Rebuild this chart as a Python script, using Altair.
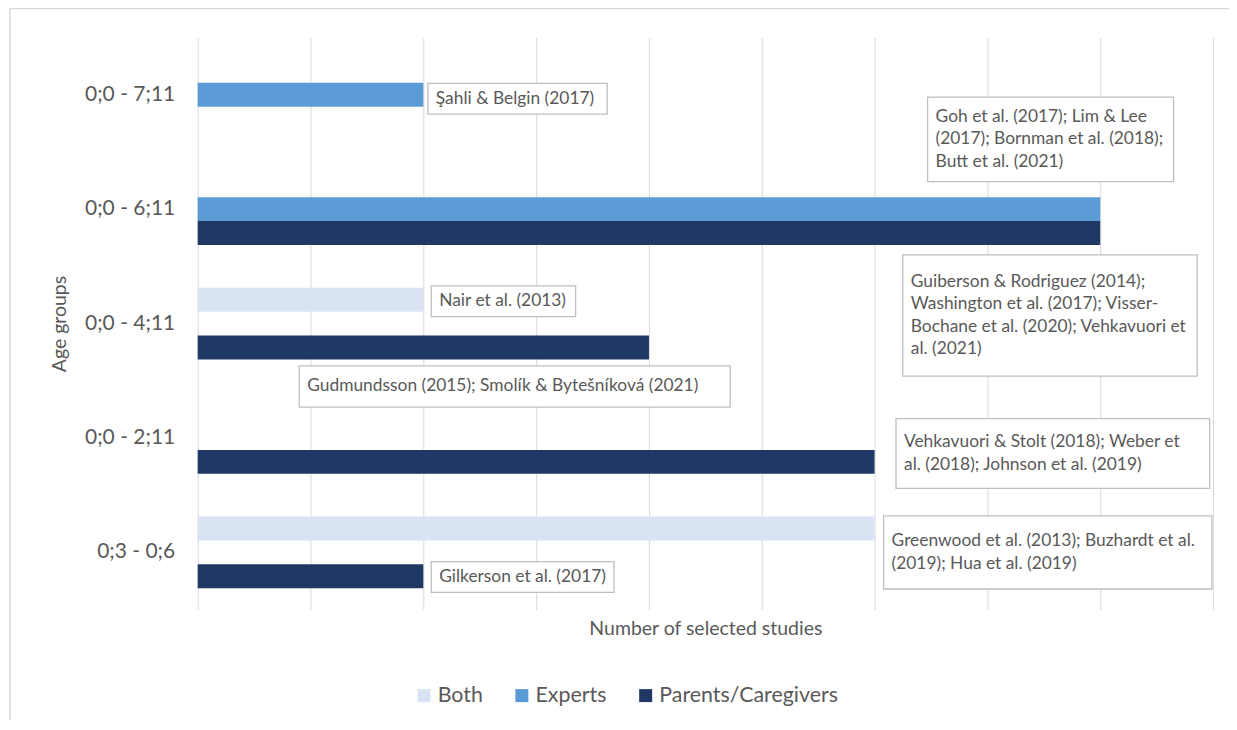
import altair as alt
import pandas as pd

# ---- data ----
categories = ["0;0 - 7;11", "0;0 - 6;11", "0;0 - 4;11", "0;0 - 2;11", "0;3 - 0;6"]
series = ["Both", "Experts", "Parents/Caregivers"]
colors = ["#DAE3F3", "#5B9BD5", "#203864"]

both = [0, 0, 2, 0, 6]
experts = [2, 8, 0, 0, 0]
parents = [0, 8, 4, 6, 2]

# annotation call-outs (x in study counts, y in category units from top)
ann_text = [
    "Şahli & Belgin (2017)",
    "Goh et al. (2017); Lim & Lee\n(2017); Bornman et al. (2018);\nButt et al. (2021)",
    "Nair et al. (2013)",
    "Guiberson & Rodriguez (2014);\nWashington et al. (2017); Visser-\nBochane et al. (2020); Vehkavuori et\nal. (2021)",
    "Gudmundsson (2015); Smolík & Bytešníková (2021)",
    "Vehkavuori & Stolt (2018); Weber et\nal. (2018); Johnson et al. (2019)",
    "Greenwood et al. (2013); Buzhardt et al.\n(2019); Hua et al. (2019)",
    "Gilkerson et al. (2017)",
]
ann_x0 = [2.04, 6.47, 2.07, 6.25, 0.90, 6.19, 6.08, 2.07]
ann_x1 = [3.63, 8.65, 3.35, 8.86, 4.72, 8.97, 8.99, 3.69]
ann_y0 = [0.40, 0.52, 2.17, 1.90, 2.87, 3.33, 4.18, 4.58]
ann_y1 = [0.67, 1.26, 2.44, 2.96, 3.23, 3.94, 4.82, 4.85]

LINE_STEP = 0.195  # one text line, in category units

# ---- tables ----
rows = []
for i, c in enumerate(categories):
    for s, vals in zip(series, [both, experts, parents]):
        if vals[i] > 0:
            rows.append({"age": c, "group": s, "count": vals[i]})
df = pd.DataFrame(rows)

ann = pd.DataFrame({"x0": ann_x0, "x1": ann_x1, "y0": ann_y0, "y1": ann_y1})

line_rows = []
for t, x0, y0, y1 in zip(ann_text, ann_x0, ann_y0, ann_y1):
    lines = t.split("\n")
    n = len(lines)
    ym = (y0 + y1) / 2
    for k, ln in enumerate(lines):
        line_rows.append({"x0": x0, "y": ym + (k - (n - 1) / 2) * LINE_STEP, "line": ln})
ann_lines = pd.DataFrame(line_rows)

FONT = "Lato"
GREY = "#595959"

xscale = alt.Scale(domain=[0, 9], nice=False, zero=True)
xaxis = alt.Axis(
    values=list(range(10)), labels=False, ticks=False, domain=False,
    grid=True, gridColor="#D9D9D9", gridWidth=1,
    title="Number of selected studies", titleFontSize=19.5, titleColor=GREY,
    titleFontWeight="normal", titleFont=FONT, titleY=19, titleBaseline="middle",
)

bars = alt.Chart(df).mark_bar().encode(
    y=alt.Y(
        "age:N", sort=categories,
        scale=alt.Scale(paddingInner=0.374, paddingOuter=0.187),
        axis=alt.Axis(
            ticks=False, domain=False, labelPadding=23, labelFontSize=21,
            labelColor=GREY, labelFont=FONT, title="Age groups",
            titleFontSize=19.5, titleColor=GREY, titleFontWeight="normal",
            titleFont=FONT, titleX=-138, titleY=286.5, titleAngle=270,
            titleAlign="center", titleBaseline="middle",
        ),
    ),
    yOffset=alt.YOffset("group:N", sort=series,
                        scale=alt.Scale(domain=series, paddingInner=0, paddingOuter=0)),
    x=alt.X("count:Q", scale=xscale, axis=xaxis),
    color=alt.Color(
        "group:N", sort=series,
        scale=alt.Scale(domain=series, range=colors),
        legend=alt.Legend(
            title=None, orient="none", legendX=216, legendY=648,
            direction="horizontal", symbolType="square", symbolSize=169,
            symbolStrokeWidth=0, labelFontSize=21.4, labelColor=GREY,
            labelFont=FONT, columnPadding=28, labelOffset=3, padding=0,
            labelLimit=0,
        ),
    ),
)

yq = alt.Scale(domain=[0, 5], reverse=True, nice=False, zero=False)

boxes = alt.Chart(ann).mark_rect(
    fill="white", stroke="#BFBFBF", strokeWidth=1.3
).encode(
    x=alt.X("x0:Q", scale=xscale, axis=xaxis),
    x2="x1:Q",
    y=alt.Y("y0:Q", scale=yq, axis=None),
    y2="y1:Q",
)

texts = alt.Chart(ann_lines).mark_text(
    align="left", baseline="middle", dx=8, fontSize=17.4, color=GREY, font=FONT,
).encode(
    x=alt.X("x0:Q", scale=xscale, axis=xaxis),
    y=alt.Y("y:Q", scale=yq, axis=None),
    text="line:N",
)

frame_df = pd.DataFrame({"k": [0]})
top_line = alt.Chart(frame_df).mark_rule(color="#D9D9D9", strokeWidth=1.5).encode(
    x=alt.value(-188), x2=alt.value(1300), y=alt.value(-29)
)
left_line = alt.Chart(frame_df).mark_rule(color="#D9D9D9", strokeWidth=1.5).encode(
    x=alt.value(-188), y=alt.value(-29), y2=alt.value(800)
)

chart = alt.layer(top_line, left_line, bars, boxes, texts).resolve_scale(
    y="independent"
).properties(
    width=1017, height=573,
    autosize=alt.AutoSizeParams(type="none"),
    padding={"left": 190, "top": 29, "right": 16, "bottom": 110},
).configure(font=FONT).configure_view(stroke=None)

chart.save("out.html", embed_options={"renderer": "svg", "actions": False})
